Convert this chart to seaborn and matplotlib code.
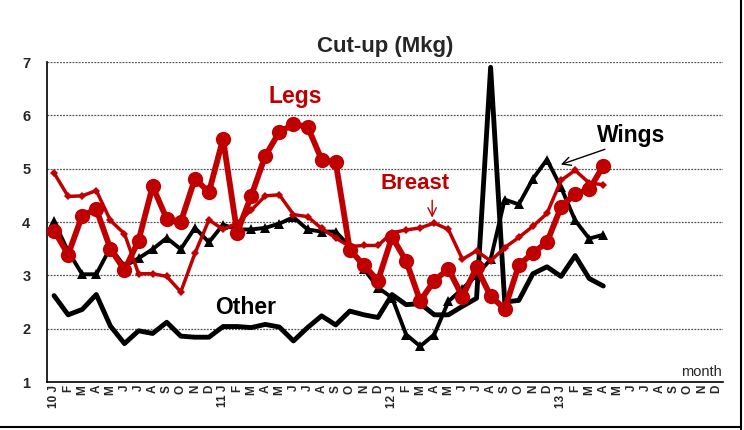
import numpy as np
import pandas as pd
import matplotlib
matplotlib.use("Agg")
import matplotlib.pyplot as plt
import seaborn as sns

months = ["J", "F", "M", "A", "M", "J", "J", "A", "S", "O", "N", "D"]
years = ["10", "11", "12", "13"]
tick_labels = []
for y in years:
    for k, m in enumerate(months):
        tick_labels.append(f"{y} {m}" if k == 0 else m)

legs = [3.84, 3.39, 4.12, 4.24, 3.50, 3.10, 3.65, 4.67, 4.06, 4.00, 4.81, 4.56,
        5.56, 3.80, 4.49, 5.24, 5.69, 5.83, 5.79, 5.17, 5.12, 3.48, 3.19, 2.90,
        3.72, 3.27, 2.52, 2.90, 3.12, 2.60, 3.15, 2.61, 2.37, 3.19, 3.42, 3.62,
        4.28, 4.53, 4.61, 5.05]
breast = [4.92, 4.48, 4.49, 4.59, 4.03, 3.78, 3.03, 3.03, 2.98, 2.69, 3.41, 4.04,
          3.86, 3.98, 4.22, 4.49, 4.51, 4.14, 4.10, 3.88, 3.70, 3.54, 3.56, 3.56,
          3.80, 3.85, 3.89, 3.98, 3.86, 3.30, 3.46, 3.27, 3.52, 3.71, 3.92, 4.16,
          4.78, 4.97, 4.73, 4.70]
wings = [4.01, 3.45, 3.02, 3.02, 3.52, 3.17, 3.32, 3.49, 3.70, 3.49, 3.89, 3.62,
         3.95, 3.86, 3.86, 3.89, 3.97, 4.09, 3.86, 3.82, 3.82, 3.54, 3.12, 2.77,
         2.58, 1.89, 1.67, 1.89, 2.51, 2.75, 3.00, 3.30, 4.42, 4.33, 4.81, 5.17,
         4.65, 4.03, 3.69, 3.76]
other = [2.62, 2.26, 2.36, 2.64, 2.05, 1.72, 1.96, 1.91, 2.12, 1.86, 1.84, 1.84,
         2.04, 2.04, 2.02, 2.08, 2.03, 1.77, 2.02, 2.24, 2.07, 2.33, 2.26, 2.21,
         2.64, 2.45, 2.47, 2.26, 2.26, 2.42, 2.57, 6.90, 2.50, 2.53, 3.03, 3.16,
         2.98, 3.37, 2.94, 2.80]

RED = "#C00000"
sns.set_theme(style="white")
plt.rcParams["font.family"] = ["Liberation Sans", "DejaVu Sans"]

fig = plt.figure(figsize=(7.44, 4.30), dpi=100)
ax = fig.add_axes([47 / 744, 1 - 382 / 430, (723 - 47) / 744, (382 - 62) / 430])

idx = np.arange(len(legs))
df = pd.DataFrame({"m": idx, "Legs": legs, "Breast": breast, "Wings": wings, "Other": other})

sns.lineplot(data=df, x="m", y="Other", ax=ax, color="black", lw=3.5, zorder=3)
sns.lineplot(data=df, x="m", y="Wings", ax=ax, color="black", lw=2.8, marker="^",
             markersize=7, markeredgewidth=0, zorder=4)
sns.lineplot(data=df, x="m", y="Breast", ax=ax, color=RED, lw=2.5, marker="D",
             markersize=4, markeredgewidth=0, zorder=5)
sns.lineplot(data=df, x="m", y="Legs", ax=ax, color=RED, lw=4.2, marker="o",
             markersize=11, markeredgewidth=0, zorder=6)

ax.set_xlim(-0.5, 47.5)
ax.set_ylim(1, 7)
ax.set_xticks(np.arange(48))
ax.set_xticklabels(tick_labels, rotation=90, fontsize=8.5, fontweight="bold",
                   va="top", ha="center")
ax.set_yticks(range(1, 8))
ax.set_yticklabels([str(v) for v in range(1, 8)], fontsize=10.5, fontweight="bold")
ax.tick_params(axis="x", length=0, pad=2)
ax.tick_params(axis="y", length=0, pad=12)
ax.set_xlabel("")
ax.set_ylabel("")
for yv in range(2, 8):
    ax.axhline(yv, color="#555555", lw=0.9, ls=(0, (1.5, 1)), zorder=1)
for s in ["top", "right"]:
    ax.spines[s].set_visible(False)
for s in ["left", "bottom"]:
    ax.spines[s].set_color("black")
    ax.spines[s].set_linewidth(1.2)

ax.set_title("Cut-up (Mkg)", fontsize=16, fontweight="bold", pad=7)

ax.text(17.1, 6.36, "Legs", color=RED, fontsize=16.5, fontweight="bold", ha="center", va="center")
ax.text(25.6, 4.73, "Breast", color=RED, fontsize=16, fontweight="bold", ha="center", va="center")
ax.annotate("", xy=(26.85, 4.03), xytext=(26.85, 4.46),
            arrowprops=dict(arrowstyle="->", color=RED, lw=1, mutation_scale=15))
ax.text(41.0, 5.63, "Wings", color="black", fontsize=16.5, fontweight="bold", ha="center", va="center")
ax.annotate("", xy=(35.8, 5.06), xytext=(39.3, 5.38),
            arrowprops=dict(arrowstyle="->", color="black", lw=1, mutation_scale=15))
ax.text(13.6, 2.40, "Other", color="black", fontsize=16.5, fontweight="bold", ha="center", va="center")
ax.text(47.4, 1.05, "month", fontsize=10.5, ha="right", va="bottom")

fig.add_artist(plt.Line2D([741 / 744, 741 / 744], [0, 1], color="black", lw=1.5))
fig.add_artist(plt.Line2D([0, 741 / 744], [3 / 430, 3 / 430], color="black", lw=1.5))

fig.savefig("out.png", dpi=100)
